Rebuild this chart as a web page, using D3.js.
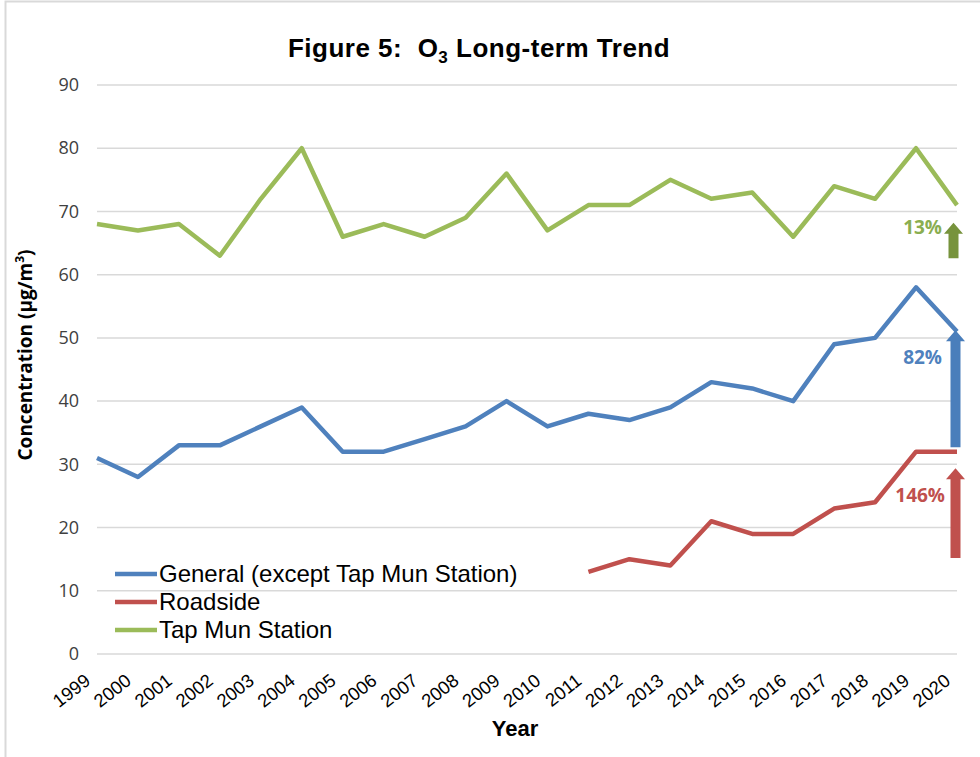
<!DOCTYPE html>
<html>
<head>
<meta charset="utf-8">
<script src="https://cdn.jsdelivr.net/npm/d3@7"></script>
<style>
  body { margin: 0; background: #fff; }
  svg { display: block; }
</style>
</head>
<body>
<svg></svg>
<script>
var years = ["1999","2000","2001","2002","2003","2004","2005","2006","2007","2008","2009",
             "2010","2011","2012","2013","2014","2015","2016","2017","2018","2019","2020"];
var general = [31,28,33,33,36,39,32,32,34,36,40,36,38,37,39,43,42,40,49,50,58,51];
var roadside = [null,null,null,null,null,null,null,null,null,null,null,null,13,15,14,21,19,19,23,24,32,32];
var tapMun = [68,67,68,63,72,80,66,68,66,69,76,67,71,71,75,72,73,66,74,72,80,71];
var yTicks = [0,10,20,30,40,50,60,70,80,90];
var seriesNames = ["General (except Tap Mun Station)","Roadside","Tap Mun Station"];
var seriesColors = ["#4f81bd","#c0504d","#9bbb59"];
// change arrows drawn next to 2020
var arrowFrom = [62.6, 32.7, 15.2];
var arrowTo = [68.2, 51.2, 29.4];
var arrowLabels = ["13%", "82%", "146%"];
var arrowColors = ["#77933c", "#4a7ebb", "#c0504d"];
var arrowTextColors = ["#8aae50", "#4f81bd", "#c0504d"];

var width = 980, height = 757;
var svg = d3.select("svg").attr("width", width).attr("height", height);

// outer frame
svg.append("rect")
   .attr("x", 5.5).attr("y", 1.5)
   .attr("width", 990).attr("height", 800)
   .attr("fill", "none")
   .attr("stroke", "#d9d9d9")
   .attr("stroke-width", 2);

var pLeft = 97, pRight = 957, pTop = 85, pBottom = 654;

var xScale = d3.scalePoint().domain(years).range([pLeft, pRight]);
var yScale = d3.scaleLinear().domain([0, 90]).range([pBottom, pTop]);

// gridlines
svg.append("g")
   .selectAll("line")
   .data(yTicks)
   .enter()
   .append("line")
   .attr("x1", pLeft).attr("x2", pRight)
   .attr("y1", function(d){ return yScale(d); })
   .attr("y2", function(d){ return yScale(d); })
   .attr("stroke", "#d9d9d9")
   .attr("stroke-width", 1.5);

// y axis labels
var yAxis = d3.axisLeft(yScale).tickValues(yTicks).tickSize(0).tickPadding(0);
var yg = svg.append("g")
   .attr("transform", "translate(79,0)")
   .call(yAxis);
yg.select(".domain").remove();
yg.selectAll("text")
  .attr("font-family", "'Open Sans', sans-serif")
  .attr("font-size", 18)
  .attr("fill", "#404040");

// x axis labels
var xAxis = d3.axisBottom(xScale).tickSize(0).tickPadding(0);
var xg = svg.append("g")
   .attr("transform", "translate(0," + pBottom + ")")
   .call(xAxis);
xg.select(".domain").remove();
xg.selectAll("text")
  .attr("font-family", "'Liberation Sans', Arial, sans-serif")
  .attr("font-size", 18.5)
  .attr("fill", "#000")
  .attr("text-anchor", "end")
  .attr("dy", 0)
  .attr("y", 0)
  .attr("transform", "translate(-6,29) rotate(-38)");

// lines
var line = d3.line()
   .defined(function(d){ return d.v !== null; })
   .x(function(d){ return xScale(d.y); })
   .y(function(d){ return yScale(d.v); });

[general, roadside, tapMun].forEach(function(vals, i){
  var pts = years.map(function(y, j){ return {y: y, v: vals[j]}; });
  svg.append("path")
     .datum(pts)
     .attr("d", line)
     .attr("fill", "none")
     .attr("stroke", seriesColors[i])
     .attr("stroke-width", 4.5)
     .attr("stroke-linejoin", "round");
});

// arrows
arrowLabels.forEach(function(lab, i){
  var ax = i === 0 ? 953.5 : 955.5;
  var y0 = yScale(arrowFrom[i]), y1 = yScale(arrowTo[i]);
  var hw = 9.5, sw = 5, hh = 11;
  var p = [
    [ax - sw, y0], [ax - sw, y1 + hh], [ax - hw, y1 + hh], [ax, y1],
    [ax + hw, y1 + hh], [ax + sw, y1 + hh], [ax + sw, y0]
  ];
  svg.append("path")
     .attr("d", "M" + p.join("L") + "Z")
     .attr("fill", arrowColors[i]);
  svg.append("text")
     .text(lab)
     .attr("x", i === 2 ? 945 : 942)
     .attr("y", y1 + (i === 0 ? 11 : 34))
     .attr("text-anchor", "end")
     .attr("font-family", "'Open Sans', sans-serif")
     .attr("font-weight", "bold")
     .attr("font-size", 19)
     .attr("fill", arrowTextColors[i]);
});

// legend
var legend = svg.append("g");
seriesNames.forEach(function(n, i){
  var ly = 574 + i * 28;
  legend.append("line")
        .attr("x1", 115).attr("x2", 157)
        .attr("y1", ly).attr("y2", ly)
        .attr("stroke", seriesColors[i])
        .attr("stroke-width", 4.5);
  legend.append("text")
        .text(n)
        .attr("x", 159).attr("y", ly + 8)
        .attr("font-family", "'Liberation Sans', Arial, sans-serif")
        .attr("font-size", 24)
        .attr("fill", "#000");
});

// title
var title = svg.append("text")
   .attr("x", 479).attr("y", 57)
   .attr("text-anchor", "middle")
   .attr("font-family", "'Liberation Sans', Arial, sans-serif")
   .attr("font-weight", "bold")
   .attr("font-size", 26)
   .attr("letter-spacing", 0.5)
   .attr("fill", "#000");
title.append("tspan").text("Figure 5:\u00a0\u00a0O");
title.append("tspan").text("3").attr("font-size", 17).attr("dy", 6);
title.append("tspan").text(" Long-term Trend").attr("dy", -6);

// axis titles
svg.append("text")
   .text("Year")
   .attr("x", 515).attr("y", 736)
   .attr("text-anchor", "middle")
   .attr("font-family", "'Liberation Sans', Arial, sans-serif")
   .attr("font-weight", "bold")
   .attr("font-size", 22)
   .attr("fill", "#000");

var yt = svg.append("text")
   .attr("transform", "translate(32,355) rotate(-90)")
   .attr("text-anchor", "middle")
   .attr("font-family", "'Open Sans', sans-serif")
   .attr("font-weight", "bold")
   .attr("font-size", 19)
   .attr("fill", "#000");
yt.append("tspan").text("Concentration (\u00b5g/m");
yt.append("tspan").text("3").attr("font-size", 12).attr("dy", -8);
yt.append("tspan").text(")").attr("dy", 8);
</script>
</body>
</html>
